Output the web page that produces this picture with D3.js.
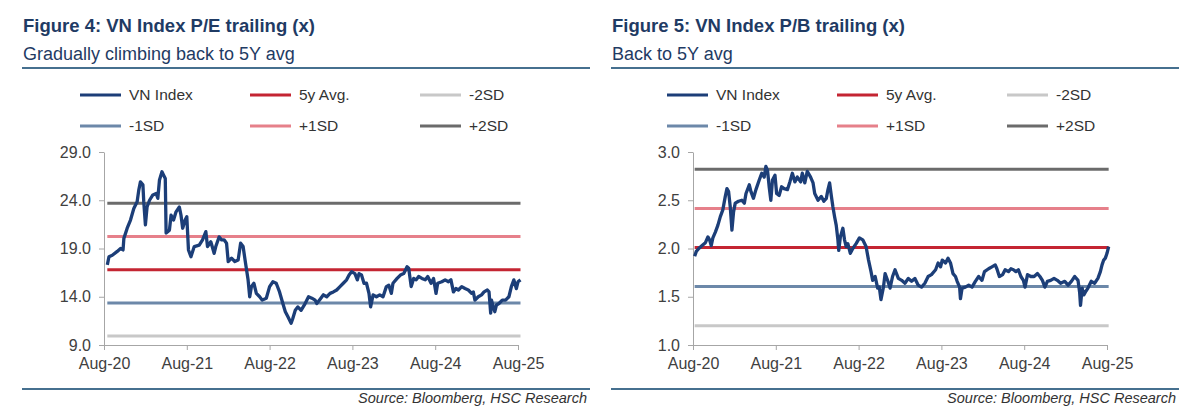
<!DOCTYPE html>
<html lang="en">
<head>
<meta charset="UTF-8">
<title>VN Index P/E and P/B trailing</title>
<script src="https://cdn.jsdelivr.net/npm/d3@7/dist/d3.min.js"></script>
<style>
    body { margin: 0; background: #fff; }
    svg { font-family: Arial, "Liberation Sans", Helvetica, sans-serif; }
    .title { font-size: 18.5px; font-weight: bold; fill: #1f3b64; }
    .subtitle { font-size: 18px; fill: #1f3b64; }
    .legend text { font-size: 15.5px; fill: #333; }
    .axis text { font-size: 16px; fill: #404040; }
    .axis path, .axis line { stroke: #a6a6a6; }
    .source { font-size: 14.5px; font-style: italic; fill: #333; }
</style>
</head>
<body>
<svg width="1200" height="420"></svg>
<script>
// x values are decimal years (Aug-20 tick = 2020.58)
const xTickValues = [2020.58, 2021.58, 2022.58, 2023.58, 2024.58, 2025.58];
const xTickLabels = ["Aug-20", "Aug-21", "Aug-22", "Aug-23", "Aug-24", "Aug-25"];

const seriesNames = ["VN Index", "5y Avg.", "-2SD", "-1SD", "+1SD", "+2SD"];
const seriesColors = ["#1c3e78", "#c42532", "#c8c8c8", "#6c88a9", "#e6808a", "#6b6b6b"];

// P/E trailing
const peDates = [
  2020.62, 2020.64, 2020.68, 2020.74, 2020.78, 2020.81, 2020.82, 2020.86, 2020.90, 2020.94,
  2020.98, 2021.00, 2021.02, 2021.05, 2021.06, 2021.08, 2021.10, 2021.13, 2021.17, 2021.21,
  2021.23, 2021.25, 2021.28, 2021.30, 2021.32, 2021.33, 2021.37, 2021.39, 2021.42, 2021.45,
  2021.49, 2021.51, 2021.53, 2021.56, 2021.58, 2021.60, 2021.63, 2021.67, 2021.73, 2021.77,
  2021.81, 2021.83, 2021.87, 2021.91, 2021.93, 2021.97, 2022.00, 2022.03, 2022.06, 2022.08,
  2022.12, 2022.16, 2022.20, 2022.23, 2022.26, 2022.29, 2022.32, 2022.34, 2022.36, 2022.39,
  2022.42, 2022.46, 2022.49, 2022.54, 2022.58, 2022.62, 2022.66, 2022.70, 2022.74, 2022.77,
  2022.80, 2022.84, 2022.86, 2022.89, 2022.92, 2022.96, 2023.00, 2023.05, 2023.09, 2023.13,
  2023.15, 2023.19, 2023.23, 2023.27, 2023.31, 2023.35, 2023.39, 2023.43, 2023.47, 2023.51,
  2023.54, 2023.57, 2023.61, 2023.64, 2023.66, 2023.69, 2023.72, 2023.75, 2023.78, 2023.80,
  2023.83, 2023.87, 2023.91, 2023.95, 2023.99, 2024.02, 2024.05, 2024.07, 2024.12, 2024.16,
  2024.20, 2024.22, 2024.24, 2024.26, 2024.29, 2024.32, 2024.35, 2024.38, 2024.42, 2024.46,
  2024.49, 2024.53, 2024.56, 2024.59, 2024.61, 2024.66, 2024.70, 2024.74, 2024.77, 2024.80,
  2024.83, 2024.86, 2024.90, 2024.94, 2024.98, 2025.02, 2025.04, 2025.06, 2025.10, 2025.14,
  2025.17, 2025.21, 2025.23, 2025.25, 2025.26, 2025.28, 2025.30, 2025.32, 2025.35, 2025.39,
  2025.43, 2025.47, 2025.50, 2025.53, 2025.56, 2025.58, 2025.61
];
const peValues = [
  17.3, 18.15, 18.3, 18.7, 19.0, 18.85, 20.05, 21.1, 21.95, 23.15,
  23.85, 25.05, 25.9, 25.6, 23.85, 21.45, 23.3, 24.0, 24.55, 24.7,
  24.2, 26.1, 26.95, 26.6, 26.25, 20.6, 20.9, 22.45, 21.95, 22.8,
  23.3, 22.45, 21.1, 21.95, 22.3, 18.85, 18.15, 19.2, 19.35, 19.9,
  20.75, 19.2, 19.7, 18.5, 19.2, 20.2, 19.9, 19.9, 19.55, 17.65,
  18.0, 17.65, 17.8, 19.55, 19.2, 17.45, 15.75, 14.0, 15.05, 15.4,
  14.35, 14.0, 13.65, 13.85, 15.05, 15.55, 15.4, 14.5, 13.3, 12.45,
  11.95, 11.25, 11.75, 12.6, 12.95, 12.6, 13.15, 14.0, 13.85, 13.65,
  13.3, 13.75, 14.2, 14.0, 14.35, 14.5, 14.7, 15.05, 15.4, 15.75,
  16.25, 16.6, 16.4, 15.75, 16.4, 16.25, 15.4, 15.4, 14.35, 12.95,
  14.2, 14.0, 14.2, 14.0, 15.05, 15.2, 14.35, 15.4, 15.9, 16.25,
  16.4, 16.75, 17.1, 16.95, 15.05, 15.9, 15.75, 16.1, 15.9, 15.75,
  16.1, 15.4, 15.9, 14.35, 15.4, 15.55, 15.75, 15.55, 15.75, 14.5,
  14.85, 14.7, 15.05, 14.85, 14.7, 14.35, 14.5, 13.65, 14.0, 14.2,
  14.5, 14.7, 14.5, 12.3, 13.65, 12.95, 12.45, 13.15, 13.3, 13.65,
  13.65, 14.0, 15.05, 15.75, 14.85, 15.55, 15.75
];
// 5y Avg., -2SD, -1SD, +1SD, +2SD
const peLevels = [16.8, 9.92, 13.36, 20.24, 23.68];
const peYTicks = [9, 14, 19, 24, 29];

// P/B trailing
const pbDates = [
  2020.60, 2020.62, 2020.65, 2020.69, 2020.73, 2020.76, 2020.78, 2020.80, 2020.82, 2020.85,
  2020.88, 2020.91, 2020.94, 2020.97, 2020.99, 2021.01, 2021.03, 2021.05, 2021.07, 2021.09,
  2021.13, 2021.17, 2021.20, 2021.22, 2021.26, 2021.28, 2021.31, 2021.34, 2021.38, 2021.41,
  2021.44, 2021.46, 2021.48, 2021.50, 2021.52, 2021.54, 2021.57, 2021.59, 2021.62, 2021.65,
  2021.68, 2021.72, 2021.75, 2021.78, 2021.81, 2021.84, 2021.88, 2021.90, 2021.93, 2021.96,
  2022.00, 2022.03, 2022.05, 2022.09, 2022.13, 2022.16, 2022.19, 2022.21, 2022.23, 2022.25,
  2022.27, 2022.29, 2022.31, 2022.33, 2022.34, 2022.36, 2022.39, 2022.41, 2022.43, 2022.45,
  2022.48, 2022.51, 2022.55, 2022.59, 2022.63, 2022.67, 2022.70, 2022.73, 2022.75, 2022.78,
  2022.81, 2022.83, 2022.85, 2022.88, 2022.90, 2022.93, 2022.96, 2022.99, 2023.02, 2023.06,
  2023.10, 2023.14, 2023.18, 2023.22, 2023.26, 2023.30, 2023.34, 2023.38, 2023.42, 2023.46,
  2023.51, 2023.54, 2023.57, 2023.59, 2023.63, 2023.66, 2023.69, 2023.72, 2023.75, 2023.77,
  2023.80, 2023.81, 2023.83, 2023.87, 2023.91, 2023.95, 2023.99, 2024.03, 2024.07, 2024.10,
  2024.15, 2024.19, 2024.23, 2024.25, 2024.28, 2024.32, 2024.35, 2024.39, 2024.42, 2024.45,
  2024.48, 2024.51, 2024.54, 2024.57, 2024.59, 2024.62, 2024.66, 2024.70, 2024.74, 2024.77,
  2024.80, 2024.83, 2024.86, 2024.90, 2024.94, 2024.98, 2025.02, 2025.07, 2025.11, 2025.15,
  2025.19, 2025.23, 2025.25, 2025.26, 2025.28, 2025.30, 2025.32, 2025.35, 2025.39, 2025.43,
  2025.47, 2025.50, 2025.52, 2025.54, 2025.56, 2025.58, 2025.60
];
const pbValues = [
  1.92, 1.97, 2.0, 2.03, 2.06, 2.12, 2.09, 2.03, 2.11, 2.17,
  2.24, 2.33, 2.4, 2.54, 2.62, 2.59, 2.43, 2.19, 2.38, 2.47,
  2.49, 2.5, 2.47, 2.57, 2.66, 2.59, 2.52, 2.61, 2.71, 2.78,
  2.74, 2.85, 2.81, 2.64, 2.5, 2.71, 2.76, 2.57, 2.55, 2.64,
  2.62, 2.61, 2.69, 2.78, 2.69, 2.74, 2.69, 2.78, 2.68, 2.8,
  2.74, 2.68, 2.57, 2.5, 2.54, 2.49, 2.52, 2.61, 2.68, 2.55,
  2.43, 2.33, 2.24, 2.09, 1.98, 2.12, 2.21, 2.09, 2.02, 2.05,
  1.95, 2.0, 2.05, 2.11, 2.09, 2.02, 1.88, 1.76, 1.67, 1.71,
  1.59, 1.6, 1.47, 1.6, 1.74, 1.67, 1.59, 1.71, 1.78, 1.69,
  1.67, 1.64, 1.69, 1.66, 1.69, 1.62, 1.6, 1.64, 1.71, 1.73,
  1.78, 1.85, 1.81, 1.88, 1.85, 1.9, 1.85, 1.74, 1.71, 1.66,
  1.6, 1.48, 1.59, 1.6, 1.62, 1.6, 1.66, 1.71, 1.67, 1.76,
  1.79, 1.81, 1.83, 1.79, 1.71, 1.73, 1.78, 1.76, 1.79, 1.78,
  1.76, 1.78, 1.71, 1.67, 1.6, 1.73, 1.71, 1.71, 1.74, 1.71,
  1.67, 1.6, 1.66, 1.67, 1.69, 1.67, 1.64, 1.66, 1.62, 1.66,
  1.71, 1.67, 1.54, 1.41, 1.59, 1.52, 1.55, 1.59, 1.66, 1.64,
  1.69, 1.76, 1.83, 1.88, 1.9, 1.95, 2.02
];
const pbLevels = [2.01, 1.2, 1.605, 2.415, 2.82];
const pbYTicks = [1, 1.5, 2, 2.5, 3];

const svg = d3.select("svg");

function drawPanel(cfg) {
    const g = svg.append("g").attr("transform", `translate(${cfg.left},0)`);

    // header
    g.append("text").attr("class", "title").attr("x", 23).attr("y", 32).text(cfg.title);
    g.append("text").attr("class", "subtitle").attr("x", 23).attr("y", 60).text(cfg.subtitle);
    g.append("line").attr("x1", 22).attr("x2", 590).attr("y1", 68).attr("y2", 68)
        .attr("stroke", "#46708f").attr("stroke-width", 2);

    // legend, 3 columns x 2 rows
    const legend = g.append("g").attr("class", "legend");
    const colX = [cfg.legendX, cfg.legendX + 170, cfg.legendX + 340];
    seriesNames.forEach((name, i) => {
        const lx = colX[i % 3], ly = i < 3 ? 95 : 126;
        legend.append("line").attr("x1", lx).attr("x2", lx + 41).attr("y1", ly).attr("y2", ly)
            .attr("stroke", seriesColors[i]).attr("stroke-width", 3);
        legend.append("text").attr("x", lx + 49).attr("y", ly).attr("dy", "0.35em").text(name);
    });

    const x = d3.scaleLinear().domain([xTickValues[0], xTickValues[5]]).range([cfg.axisX, cfg.axisX + 414]);
    const y = d3.scaleLinear().domain(cfg.yDomain).range([345, 152]);

    // axes
    g.append("g").attr("class", "axis").attr("transform", "translate(0,345)")
        .call(d3.axisBottom(x).tickValues(xTickValues).tickFormat((d, i) => xTickLabels[i])
            .tickSize(5).tickSizeOuter(0).tickPadding(8));
    g.append("g").attr("class", "axis").attr("transform", `translate(${cfg.axisX},0)`)
        .call(d3.axisLeft(y).tickValues(cfg.yTicks).tickFormat(d3.format(".1f"))
            .tickSize(5).tickSizeOuter(0).tickPadding(8));

    // reference levels
    const x0 = cfg.dates[0], x1 = cfg.dates[cfg.dates.length - 1];
    cfg.levels.forEach((v, i) => {
        g.append("line").attr("x1", x(x0)).attr("x2", x(x1)).attr("y1", y(v)).attr("y2", y(v))
            .attr("stroke", seriesColors[i + 1]).attr("stroke-width", 3);
    });

    // VN Index line
    const line = d3.line().x((d, i) => x(cfg.dates[i])).y(d => y(d));
    g.append("path").datum(cfg.values).attr("d", line)
        .attr("fill", "none").attr("stroke", seriesColors[0])
        .attr("stroke-width", 3.3).attr("stroke-linejoin", "round");

    // footer
    g.append("line").attr("x1", 22).attr("x2", 590).attr("y1", 389).attr("y2", 389)
        .attr("stroke", "#46708f").attr("stroke-width", 2);
    g.append("text").attr("class", "source").attr("x", 587).attr("y", 403)
        .attr("text-anchor", "end").text("Source: Bloomberg, HSC Research");
}

drawPanel({
    left: 0, legendX: 80, axisX: 104,
    title: "Figure 4: VN Index P/E trailing (x)",
    subtitle: "Gradually climbing back to 5Y avg",
    dates: peDates, values: peValues, levels: peLevels,
    yDomain: [9, 29], yTicks: peYTicks
});

drawPanel({
    left: 589, legendX: 78, axisX: 104,
    title: "Figure 5: VN Index P/B trailing (x)",
    subtitle: "Back to 5Y avg",
    dates: pbDates, values: pbValues, levels: pbLevels,
    yDomain: [1, 3], yTicks: pbYTicks
});
</script>
</body>
</html>
